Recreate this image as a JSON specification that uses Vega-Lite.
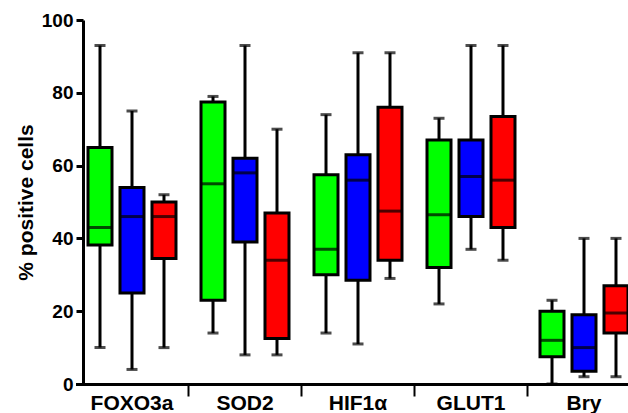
{
  "$schema": "https://vega.github.io/schema/vega-lite/v6.json",
  "width": 545,
  "height": 364,
  "autosize": {"type": "none"},
  "padding": {"left": 83, "top": 20, "right": 0, "bottom": 29},
  "config": {
    "view": {"stroke": null},
    "axis": {"labelFont": "Liberation Sans", "titleFont": "Liberation Sans", "labelColor": "black", "titleColor": "black", "domainColor": "black", "tickColor": "black", "grid": false}
  },
  "data": {
    "values": [
      {"group": "FOXO3a", "series": "green", "min": 10, "q1": 38.2, "median": 43, "q3": 65, "max": 93},
      {"group": "FOXO3a", "series": "blue", "min": 4, "q1": 25, "median": 46, "q3": 54, "max": 75},
      {"group": "FOXO3a", "series": "red", "min": 10, "q1": 34.5, "median": 46, "q3": 50, "max": 52},
      {"group": "SOD2", "series": "green", "min": 14, "q1": 23, "median": 55, "q3": 77.5, "max": 79},
      {"group": "SOD2", "series": "blue", "min": 8, "q1": 39, "median": 58, "q3": 62, "max": 93},
      {"group": "SOD2", "series": "red", "min": 8, "q1": 12.5, "median": 34, "q3": 47, "max": 70},
      {"group": "HIF1α", "series": "green", "min": 14, "q1": 30, "median": 37, "q3": 57.5, "max": 74},
      {"group": "HIF1α", "series": "blue", "min": 11, "q1": 28.5, "median": 56, "q3": 63, "max": 91},
      {"group": "HIF1α", "series": "red", "min": 29, "q1": 34, "median": 47.5, "q3": 76, "max": 91},
      {"group": "GLUT1", "series": "green", "min": 22, "q1": 32, "median": 46.5, "q3": 67, "max": 73},
      {"group": "GLUT1", "series": "blue", "min": 37, "q1": 46, "median": 57, "q3": 67, "max": 93},
      {"group": "GLUT1", "series": "red", "min": 34, "q1": 43, "median": 56, "q3": 73.5, "max": 93},
      {"group": "Bry", "series": "green", "min": 0, "q1": 7.5, "median": 12, "q3": 20, "max": 23},
      {"group": "Bry", "series": "blue", "min": 2, "q1": 3.5, "median": 10, "q3": 19, "max": 40},
      {"group": "Bry", "series": "red", "min": 2, "q1": 14, "median": 19.5, "q3": 27, "max": 40}
    ]
  },
  "encoding": {
    "xOffset": {"field": "series", "type": "nominal", "sort": ["green", "blue", "red"], "scale": {"paddingInner": 0.156, "paddingOuter": 0.344}}
  },
  "layer": [
    {
      "mark": {"type": "rule", "color": "black", "strokeWidth": 3},
      "encoding": {
        "x": {"field": "group", "type": "nominal", "sort": ["FOXO3a", "SOD2", "HIF1α", "GLUT1", "Bry"],
          "scale": {"range": [-7.5, 557.5], "paddingInner": 0, "paddingOuter": 0},
          "axis": {"orient": "bottom", "title": null, "ticks": false, "labelAngle": 0, "labelFontSize": 21, "labelFontWeight": "bold", "labelPadding": 8, "domainWidth": 3}},
        "y": {"field": "min", "type": "quantitative", "scale": {"domain": [0, 100], "nice": false},
          "axis": {"values": [0, 20, 40, 60, 80, 100], "tickSize": 7, "tickWidth": 3, "domainWidth": 3, "labelFontSize": 19, "labelFontWeight": "bold", "labelPadding": 3, "title": "% positive cells", "titleFontSize": 21, "titleFontWeight": "bold", "titlePadding": 5}},
        "y2": {"field": "max"}
      }
    },
    {
      "mark": {"type": "tick", "color": "black", "size": 11, "thickness": 3},
      "encoding": {
        "x": {"field": "group", "type": "nominal", "sort": ["FOXO3a", "SOD2", "HIF1α", "GLUT1", "Bry"], "axis": null},
        "y": {"field": "max", "type": "quantitative"}
      }
    },
    {
      "mark": {"type": "tick", "color": "black", "size": 11, "thickness": 3},
      "encoding": {
        "x": {"field": "group", "type": "nominal", "sort": ["FOXO3a", "SOD2", "HIF1α", "GLUT1", "Bry"], "axis": null},
        "y": {"field": "min", "type": "quantitative"}
      }
    },
    {
      "mark": {"type": "bar", "stroke": "black", "strokeWidth": 3, "width": 24},
      "encoding": {
        "x": {"field": "group", "type": "nominal", "sort": ["FOXO3a", "SOD2", "HIF1α", "GLUT1", "Bry"],
          "axis": {"orient": "bottom", "title": null, "values": ["FOXO3a", "SOD2", "HIF1α", "GLUT1"], "bandPosition": 1, "tickExtra": false, "labels": false, "domain": false, "ticks": true, "tickSize": 12, "tickWidth": 2}},
        "y": {"field": "q1", "type": "quantitative"},
        "y2": {"field": "q3"},
        "fill": {"field": "series", "type": "nominal", "scale": {"domain": ["green", "blue", "red"], "range": ["#00ff00", "#0000ff", "#ff0000"]}, "legend": null}
      }
    },
    {
      "mark": {"type": "tick", "color": "black", "size": 26, "thickness": 3},
      "encoding": {
        "x": {"field": "group", "type": "nominal", "sort": ["FOXO3a", "SOD2", "HIF1α", "GLUT1", "Bry"], "axis": null},
        "y": {"field": "median", "type": "quantitative"}
      }
    }
  ],
  "resolve": {"axis": {"x": "independent"}}
}
